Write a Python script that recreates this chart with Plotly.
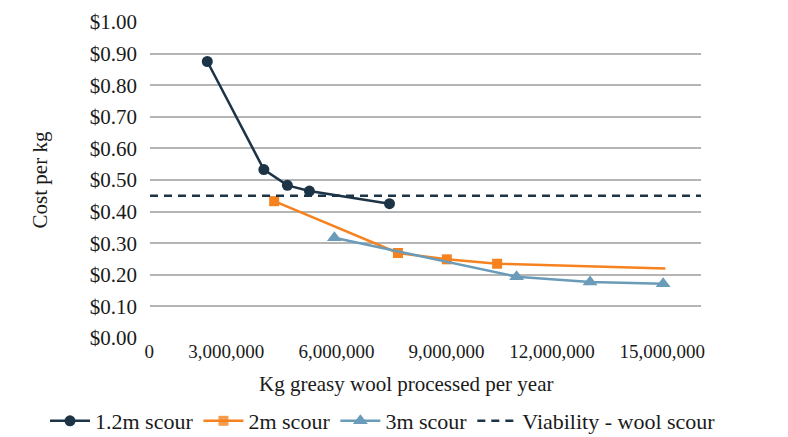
import plotly.graph_objects as go

# Annual throughput (kg greasy wool) and cost per kg for each scour size
scour_12_x = [1560000, 3100000, 3740000, 4340000, 6520000]
scour_12_y = [0.875, 0.533, 0.483, 0.465, 0.425]

scour_2_x = [3380000, 6750000, 8080000, 9450000, 14030000]
scour_2_y = [0.433, 0.269, 0.249, 0.235, 0.220]

scour_3_x = [5020000, 9980000, 11980000, 13970000]
scour_3_y = [0.317, 0.194, 0.177, 0.172]

viability_x = [0, 15000000]
viability_y = [0.45, 0.45]

x_ticks = [0, 3000000, 6000000, 9000000, 12000000, 15000000]
x_tick_text = [f"{v:,}" for v in x_ticks]
y_ticks = [0.0, 0.1, 0.2, 0.3, 0.4, 0.5, 0.6, 0.7, 0.8, 0.9, 1.0]
y_tick_text = [f"${v:.2f}" for v in y_ticks]

NAVY = "#1d3447"
ORANGE = "#f5821f"
STEEL = "#6a9bb8"
GRID = "#b5b5b5"
FONT = "Liberation Serif"
INK = "#1a1a1a"

PLOT_L, PLOT_R, PLOT_T, PLOT_B = 150, 87, 22, 99
plot_w = 788 - PLOT_L - PLOT_R
plot_h = 437 - PLOT_T - PLOT_B

fig = go.Figure()

fig.add_trace(go.Scatter(
    x=scour_12_x, y=scour_12_y, name="1.2m scour", mode="lines+markers",
    line=dict(color=NAVY, width=2.5),
    marker=dict(symbol="circle", size=11, color=NAVY),
))
fig.add_trace(go.Scatter(
    x=scour_2_x, y=scour_2_y, name="2m scour", mode="lines+markers",
    line=dict(color=ORANGE, width=2.5),
    marker=dict(symbol="square", size=10, color=ORANGE,
                opacity=[1, 1, 1, 1, 0]),
))
fig.add_trace(go.Scatter(
    x=scour_3_x, y=scour_3_y, name="3m scour", mode="lines+markers",
    line=dict(color=STEEL, width=2.5),
    marker=dict(symbol="triangle-up", size=13, color=STEEL),
))
fig.add_trace(go.Scatter(
    x=viability_x, y=viability_y, name="Viability - wool scour", mode="lines",
    line=dict(color=NAVY, width=2.5, dash="8px,6px"),
))

fig.update_layout(
    width=788, height=437,
    margin=dict(l=PLOT_L, r=PLOT_R, t=PLOT_T, b=PLOT_B, autoexpand=False),
    paper_bgcolor="white", plot_bgcolor="white",
    font=dict(family=FONT, size=20, color=INK),
    showlegend=True,
    legend=dict(
        orientation="h", xref="paper", yref="paper",
        x=(45 - PLOT_L) / plot_w, xanchor="left",
        y=-(421 - (PLOT_T + plot_h)) / plot_h, yanchor="middle",
        font=dict(family=FONT, size=22, color=INK),
        itemwidth=40, tracegroupgap=0,
    ),
    xaxis=dict(
        range=[0, 15000000], tickmode="array",
        tickvals=x_ticks, ticktext=x_tick_text,
        showgrid=False, zeroline=False, showline=False, ticks="",
        ticklabelposition="outside left", ticklabelshift=4,
        tickfont=dict(family=FONT, size=19, color=INK),
    ),
    yaxis=dict(
        range=[0, 1.0], tickmode="array",
        tickvals=y_ticks, ticktext=y_tick_text,
        showgrid=True, gridcolor=GRID, gridwidth=1.5,
        zeroline=False, showline=False, ticks="",
        ticklabelstandoff=12,
        title=dict(text="Cost per kg", standoff=36,
                   font=dict(family=FONT, size=21, color=INK)),
        tickfont=dict(family=FONT, size=21, color=INK),
    ),
    annotations=[dict(
        text="Kg greasy wool processed per year",
        xref="paper", yref="paper",
        x=(406 - PLOT_L) / plot_w, y=-(384 - (PLOT_T + plot_h)) / plot_h,
        xanchor="center", yanchor="middle", showarrow=False,
        font=dict(family=FONT, size=21, color=INK),
    )],
)

fig.write_html("out.html")
